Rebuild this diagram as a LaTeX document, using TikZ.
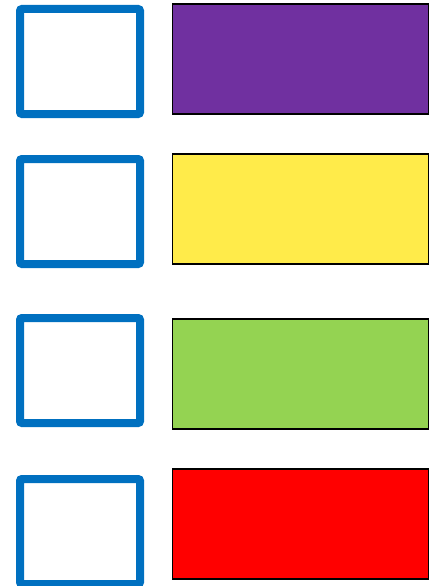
\documentclass[tikz,border=0pt]{standalone}
\begin{document}
\begin{tikzpicture}[x=1pt,y=-1pt,
  bluebox/.style={draw=boxblue,line width=8pt,rounded corners=2pt,minimum width=120pt,minimum height=105pt,inner sep=0pt,outer sep=0pt},
  colbox/.style={draw=black,line width=1.5pt,minimum width=256pt,minimum height=110pt,inner sep=0pt,outer sep=0pt}]
\definecolor{boxblue}{HTML}{0070C0}
\definecolor{cpurple}{HTML}{7030A0}
\definecolor{cyellow}{HTML}{FFEB4A}
\definecolor{cgreen}{HTML}{94D352}
\definecolor{cred}{HTML}{FF0000}
\useasboundingbox (0,0) rectangle (433,586);
\node[bluebox] (s1) at (80,61.5) {};
\node[bluebox] (s2) at (80,211.5) {};
\node[bluebox] (s3) at (80,370.5) {};
\node[bluebox] (s4) at (80,531.5) {};
\node[colbox,fill=cpurple] (r1) at (300.5,59) {};
\node[colbox,fill=cyellow] (r2) at (300.5,208.8) {};
\node[colbox,fill=cgreen] (r3) at (300.5,373.8) {};
\node[colbox,fill=cred] (r4) at (300.5,523.8) {};
\end{tikzpicture}
\end{document}
